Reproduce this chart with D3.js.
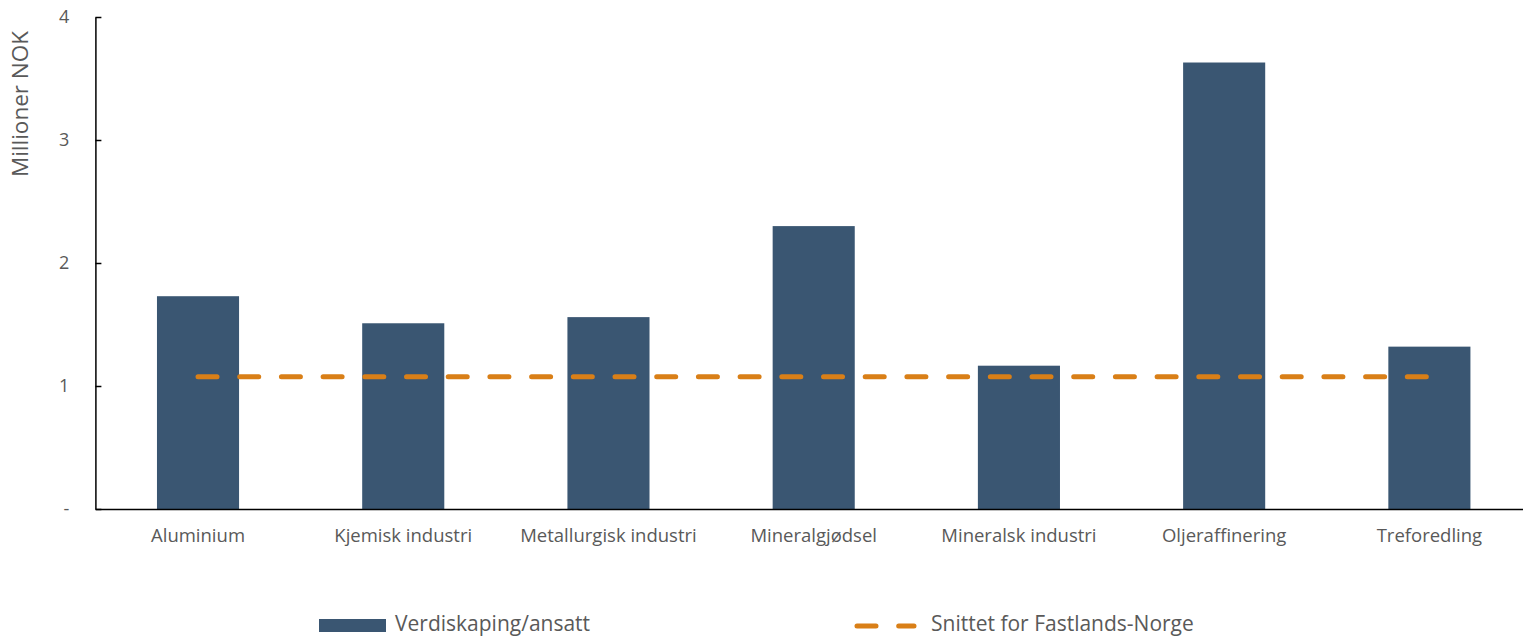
<!DOCTYPE html>
<html><head><meta charset="utf-8">
<script src="https://cdn.jsdelivr.net/npm/d3@7"></script>
<style>
html,body{margin:0;padding:0;background:#fff;}
svg text{font-family:"Open Sans",sans-serif;fill:#595959;}
</style></head>
<body><svg id="c" width="1523" height="637"></svg>
<script>
const categories = ["Aluminium","Kjemisk industri","Metallurgisk industri","Mineralgjødsel","Mineralsk industri","Oljeraffinering","Treforedling"];
const values = [1.73, 1.51, 1.56, 2.30, 1.165, 3.63, 1.32];
const averageValue = 1.075;
const yTicks = [0,1,2,3,4];
const yTickLabels = ["-","1","2","3","4"];
const seriesNames = ["Verdiskaping/ansatt","Snittet for Fastlands-Norge"];

(function(){
const svg = d3.select("#c");
const mLeft = 95.4, mRight = 1532, mTop = 17, mBottom = 509;
const x = d3.scaleBand().domain(categories).range([mLeft, mRight]).paddingInner(0.6).paddingOuter(0.3);
const y = d3.scaleLinear().domain([0,4]).range([mBottom, mTop]);
const barColor = "#3A5672", lineColor = "#D97F17";
const font = "'Open Sans',sans-serif";

svg.append("g").selectAll("rect").data(values).join("rect")
  .attr("x",(d,i)=>x(categories[i]))
  .attr("width",x.bandwidth())
  .attr("y",d=>y(d))
  .attr("height",d=>y(0)-y(d))
  .attr("fill",barColor);

const line = d3.line().x(d=>x(d)+x.bandwidth()/2).y(()=>y(averageValue));
svg.append("path").datum(categories).attr("d",line)
  .attr("fill","none").attr("stroke",lineColor).attr("stroke-width",5)
  .attr("stroke-linecap","round").attr("stroke-dasharray","19,22.7");

const yAxis = d3.axisLeft(y).tickValues(yTicks).tickSizeInner(-6).tickSizeOuter(0)
  .tickFormat((d,i)=>yTickLabels[i]).tickPadding(26);
const gy = svg.append("g").attr("transform",`translate(${mLeft},0)`).call(yAxis);
gy.select(".domain").attr("stroke","#000").attr("stroke-width",1.5);
gy.selectAll(".tick line").attr("stroke","#000").attr("stroke-width",1.5);
gy.selectAll(".tick text").attr("font-size",18).attr("font-family",font).attr("fill","#595959");

const xAxis = d3.axisBottom(x).tickSize(0).tickPadding(20);
const gx = svg.append("g").attr("transform",`translate(0,${mBottom})`).call(xAxis);
gx.select(".domain").attr("stroke","#000").attr("stroke-width",1.5);
gx.selectAll(".tick text").attr("font-size",18.5).attr("font-family",font).attr("fill","#595959");

svg.append("text").attr("transform","translate(28,104) rotate(-90)")
  .attr("text-anchor","middle").attr("font-size",22.5).text("Millioner NOK");

const lg = svg.append("g");
lg.append("rect").attr("x",319).attr("y",619).attr("width",67).attr("height",13).attr("fill",barColor);
lg.append("text").attr("x",395).attr("y",631).attr("font-size",21).text(seriesNames[0]);
lg.append("line").attr("x1",857).attr("x2",914).attr("y1",626).attr("y2",626)
  .attr("stroke",lineColor).attr("stroke-width",5).attr("stroke-linecap","round").attr("stroke-dasharray","19,22.7");
lg.append("text").attr("x",931).attr("y",631).attr("font-size",21).text(seriesNames[1]);
})();
</script></body></html>
